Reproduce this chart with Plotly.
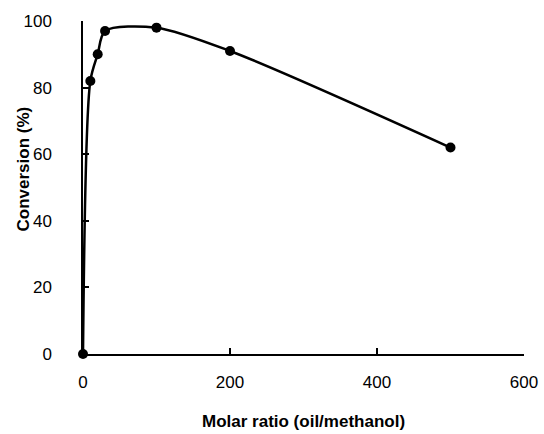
import plotly.graph_objects as go

molar_ratio = [0, 10, 20, 30, 100, 200, 500]
conversion = [0, 82, 90, 97, 98, 91, 62]

x_ticks = [0, 200, 400, 600]
y_ticks = [0, 20, 40, 60, 80, 100]

fig = go.Figure()
fig.add_trace(go.Scatter(
    x=molar_ratio, y=conversion, mode="lines+markers",
    line=dict(color="black", width=2.5, shape="spline", smoothing=0.8),
    marker=dict(color="black", size=10),
    cliponaxis=False, showlegend=False,
))

font = "Liberation Sans, Arial, sans-serif"
fig.update_layout(
    width=544, height=434,
    margin=dict(l=83, r=20, t=21, b=80, autoexpand=False),
    paper_bgcolor="white", plot_bgcolor="white",
    font=dict(family=font, size=17, color="black"),
    annotations=[
        dict(text="<b>Molar ratio (oil/methanol)</b>", xref="paper", yref="paper",
             x=0.5, y=0, yshift=-67, xanchor="center", yanchor="middle",
             showarrow=False, font=dict(size=17)),
        dict(text="<b>Conversion (%)</b>", xref="paper", yref="paper",
             x=0, y=0.5, xshift=-60, yshift=18, xanchor="center", yanchor="middle",
             textangle=-90, showarrow=False, font=dict(size=17)),
    ],
)
fig.update_xaxes(
    range=[0, 600], tickvals=x_ticks, ticks="inside", ticklen=6, automargin=False,
    tickcolor="black", tickwidth=1.5, showline=True, linecolor="black", linewidth=1.5,
    showgrid=False, zeroline=False, ticklabelstandoff=12,
)
fig.update_yaxes(
    range=[0, 100], tickvals=y_ticks, ticks="inside", ticklen=6, automargin=False,
    tickcolor="black", tickwidth=1.5, showline=True, linecolor="black", linewidth=1.5,
    showgrid=False, zeroline=False, ticklabelstandoff=26,
)

fig.write_html("out.html", config={"displayModeBar": False},
               post_script="document.body.style.margin='0';")
